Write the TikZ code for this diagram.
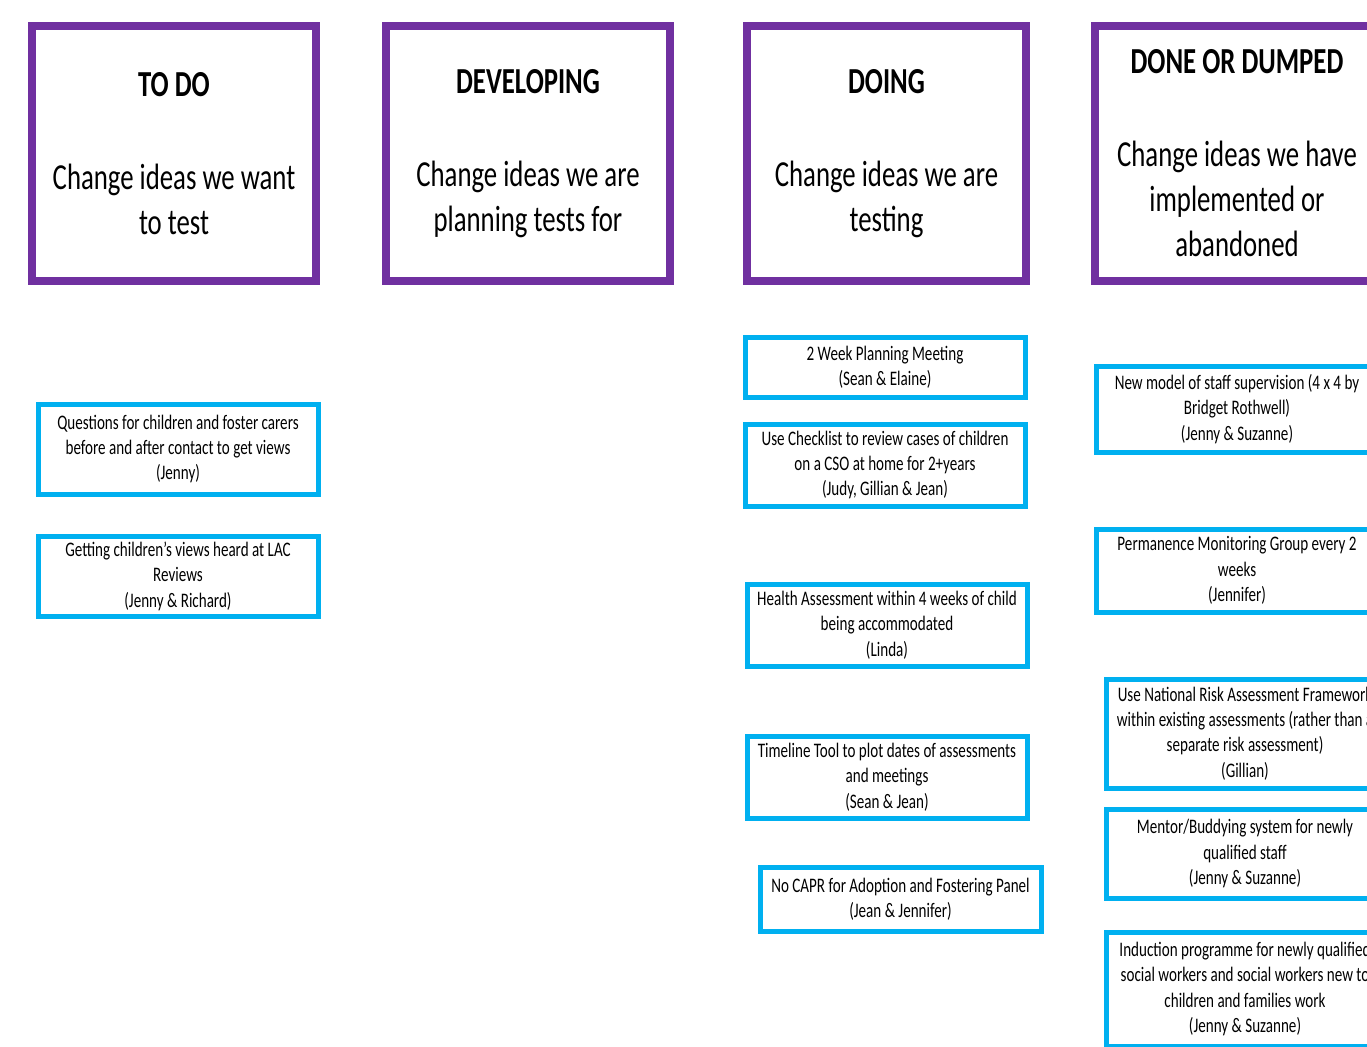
\documentclass[tikz,border=0pt]{standalone}
\usepackage{fontspec}
\setmainfont[FakeStretch=0.73]{Carlito}
\definecolor{hdpurple}{HTML}{7030A0}
\definecolor{cardblue}{HTML}{00B0F0}
\tikzset{
  colbox/.style 2 args={draw=hdpurple, line width=6pt, fill=white, inner sep=0pt,
    minimum width=#1*0.75pt, minimum height=#2*0.75pt, align=center,
    font=\fontsize{27.5pt}{33.75pt}\selectfont},
  card/.style 2 args={draw=cardblue, line width=3.75pt, fill=white, inner sep=0pt,
    minimum width=#1*0.75pt, minimum height=#2*0.75pt, align=center,
    font=\fontsize{15.5pt}{19.1pt}\selectfont},
}
\newcommand\hd[1]{\textbf{#1}\\[36pt]}
\begin{document}
\begin{tikzpicture}[x=0.75pt,y=-0.75pt]
\useasboundingbox (0,0) rectangle (1367,1046);
\clip (0,0) rectangle (1367,1046);
\fill[white] (0,0) rectangle (1367,1046);
% column headers
\node[colbox={284}{255}] (todo) at (174,153.5) {\hd{TO DO}Change ideas we want\\to test};
\node[colbox={284}{255}] (dev) at (528,153.5) {\hd{DEVELOPING}Change ideas we are\\planning tests for};
\node[colbox={279}{255}] (doing) at (886.5,153.5) {\hd{DOING}Change ideas we are\\testing};
\node[colbox={284}{255}] (done) at (1237,153.5) {\hd{DONE OR DUMPED}Change ideas we have\\implemented or\\abandoned};
% TO DO cards
\node[card={280}{90}] (q) at (178,449) {Questions for children and foster carers\\before and after contact to get views\\(Jenny)};
\node[card={280}{80}] (g) at (178,576) {Getting children's views heard at LAC\\Reviews\\(Jenny \& Richard)};
% DOING cards
\node[card={280}{60}] (d1) at (885,367) {2 Week Planning Meeting\\(Sean \& Elaine)};
\node[card={280}{82}] (d2) at (885,465) {Use Checklist to review cases of children\\on a CSO at home for 2+years\\(Judy, Gillian \& Jean)};
\node[card={280}{82}] (d3) at (887,625) {Health Assessment within 4 weeks of child\\being accommodated\\(Linda)};
\node[card={280}{82}] (d4) at (887,777) {Timeline Tool to plot dates of assessments\\and meetings\\(Sean \& Jean)};
\node[card={281}{64}] (d5) at (900.5,899) {No CAPR for Adoption and Fostering Panel\\(Jean \& Jennifer)};
% DONE cards
\node[card={282}{86}] (n1) at (1237,409) {New model of staff supervision (4 x 4 by\\Bridget Rothwell)\\(Jenny \& Suzanne)};
\node[card={282}{83}] (n2) at (1237,570.5) {Permanence Monitoring Group every 2\\weeks\\(Jennifer)};
\node[card={278}{109}] (n3) at (1245,733.5) {Use National Risk Assessment Framework\\within existing assessments (rather than a\\separate risk assessment)\\(Gillian)};
\node[card={278}{89}] (n4) at (1245,853.5) {Mentor/Buddying system for newly\\qualified staff\\(Jenny \& Suzanne)};
\node[card={278}{114}] (n5) at (1245,989) {Induction programme for newly qualified\\social workers and social workers new to\\children and families work\\(Jenny \& Suzanne)};
\end{tikzpicture}
\end{document}
